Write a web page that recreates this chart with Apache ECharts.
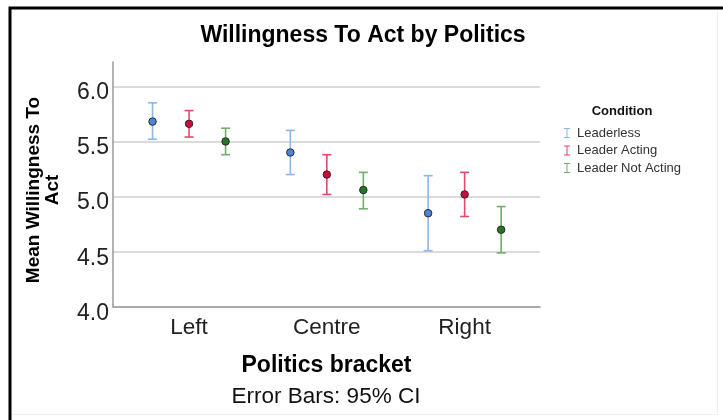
<!DOCTYPE html>
<html>
<head>
<meta charset="utf-8">
<script src="https://cdn.jsdelivr.net/npm/echarts@6/dist/echarts.min.js"></script>
<style>
  html, body { margin: 0; padding: 0; background: #fff; }
  #chart { width: 723px; height: 420px; }
</style>
</head>
<body>
<div id="chart"></div>
<script>
// Politics brackets along the x axis
const categories = ['Left', 'Centre', 'Right'];
const conditions = ['Leaderless', 'Leader Acting', 'Leader Not Acting'];

// Mean willingness to act, with 95% CI bounds, per condition
const leaderlessMean = [5.68, 5.40, 4.85];
const leaderlessLow  = [5.52, 5.20, 4.51];
const leaderlessHigh = [5.85, 5.60, 5.19];

const actingMean = [5.66, 5.20, 5.02];
const actingLow  = [5.54, 5.02, 4.82];
const actingHigh = [5.78, 5.38, 5.22];

const notActingMean = [5.50, 5.06, 4.70];
const notActingLow  = [5.38, 4.89, 4.49];
const notActingHigh = [5.62, 5.22, 4.91];

const yTicks = [4.0, 4.5, 5.0, 5.5, 6.0];

const barColors = ['#8cb6ee', '#e8476d', '#6fae6b'];
const dotColors = ['#4a88d6', '#cc0a3c', '#1f7a24'];
const groupOffsets = [-0.265, 0, 0.265];

const groups = [
  { mean: leaderlessMean, low: leaderlessLow, high: leaderlessHigh },
  { mean: actingMean, low: actingLow, high: actingHigh },
  { mean: notActingMean, low: notActingLow, high: notActingHigh }
];

// I-beam legend glyph, echoing the error bar shape
const iBeam = 'path://M0,0 L6,0 L6,1 L3.5,1 L3.5,9 L6,9 L6,10 L0,10 L0,9 L2.5,9 L2.5,1 L0,1 Z';

const series = [];
groups.forEach((g, si) => {
  const pts = categories.map((c, i) => [i + groupOffsets[si], g.low[i], g.high[i]]);
  series.push({
    type: 'custom',
    name: conditions[si],
    data: pts,
    z: 3,
    encode: { x: 0, y: [1, 2] },
    renderItem: (params, api) => {
      const x = api.value(0);
      const top = api.coord([x, api.value(2)]);
      const bot = api.coord([x, api.value(1)]);
      const cap = 4.5;
      const style = { stroke: barColors[si], lineWidth: 1.6, fill: null };
      return {
        type: 'group',
        children: [
          { type: 'line', shape: { x1: top[0], y1: top[1], x2: bot[0], y2: bot[1] }, style },
          { type: 'line', shape: { x1: top[0] - cap, y1: top[1], x2: top[0] + cap, y2: top[1] }, style },
          { type: 'line', shape: { x1: bot[0] - cap, y1: bot[1], x2: bot[0] + cap, y2: bot[1] }, style }
        ]
      };
    },
    itemStyle: { color: barColors[si] }
  });
  series.push({
    type: 'scatter',
    data: categories.map((c, i) => [i + groupOffsets[si], g.mean[i]]),
    symbol: 'circle',
    symbolSize: 7.5,
    z: 4,
    itemStyle: { color: dotColors[si], borderColor: '#2a2a2a', borderWidth: 1, opacity: 1 },
    silent: true
  });
});

const chart = echarts.init(document.getElementById('chart'), null, { renderer: 'canvas' });
chart.setOption({
  animation: false,
  backgroundColor: '#fff',
  textStyle: { fontFamily: 'Liberation Sans, Arial, sans-serif' },
  title: [
    {
      text: 'Willingness To Act by Politics',
      left: 358, top: 19, textAlign: 'center',
      textStyle: { fontSize: 23, fontWeight: 'bold', color: '#000', fontFamily: 'Liberation Sans' }
    },
    {
      text: 'Condition',
      left: 617, top: 99.5, textAlign: 'center',
      textStyle: { fontSize: 13, fontWeight: 'bold', color: '#111', fontFamily: 'Liberation Sans' }
    },
    {
      text: 'Error Bars: 95% CI',
      left: 321, top: 380.5, textAlign: 'center',
      textStyle: { fontSize: 22.5, fontWeight: 'normal', color: '#111', fontFamily: 'Liberation Sans' }
    }
  ],
  legend: {
    orient: 'vertical',
    left: 559, top: 121.5,
    itemWidth: 6, itemHeight: 10, itemGap: 4.5,
    icon: iBeam,
    data: conditions.map((n, i) => ({ name: n, itemStyle: { color: barColors[i] } })),
    textStyle: { fontSize: 13, color: '#333', fontFamily: 'Liberation Sans', padding: [0, 0, 0, 2] }
  },
  grid: { left: 113, top: 62, right: 183, bottom: 113, containLabel: false },
  xAxis: {
    type: 'value',
    min: -0.552, max: 2.547,
    name: 'Politics bracket',
    nameLocation: 'middle', nameGap: 47,
    nameTextStyle: { fontSize: 23, fontWeight: 'bold', color: '#000', fontFamily: 'Liberation Sans' },
    axisLine: { show: true, lineStyle: { color: '#999', width: 1.5 } },
    axisTick: { show: false, customValues: [0, 1, 2] },
    splitLine: { show: false },
    axisLabel: {
      customValues: [0, 1, 2],
      formatter: v => categories[Math.round(v)],
      fontSize: 22.5, color: '#222', margin: 9.5, fontFamily: 'Liberation Sans'
    }
  },
  yAxis: {
    type: 'value',
    min: 4.0, max: 6.22,
    name: 'Mean Willingness To\nAct',
    nameLocation: 'middle', nameGap: 51, nameRotate: 90,
    nameTextStyle: {
      fontSize: 19, fontWeight: 'bold', color: '#000', lineHeight: 19,
      fontFamily: 'Liberation Sans', padding: [0, 11, 0, 0]
    },
    axisLine: { show: true, onZero: false, lineStyle: { color: '#999', width: 1.5 } },
    axisTick: { show: false, customValues: yTicks },
    axisLabel: {
      customValues: yTicks,
      formatter: v => v.toFixed(1),
      fontSize: 23, color: '#222', margin: 4,
      verticalAlign: 'top', lineHeight: 13,
      fontFamily: 'Liberation Sans'
    },
    splitLine: { show: true, lineStyle: { color: '#cfcfcf', width: 1.5 } }
  },
  graphic: [
    {
      type: 'rect',
      shape: { x: 9.5, y: 7.5, width: 708, height: 407 },
      style: { fill: null, stroke: '#f0f0f0', lineWidth: 1 },
      z: 0, silent: true
    },
    {
      type: 'polyline',
      shape: { points: [[10, 440], [10, 8], [740, 8]] },
      style: { fill: null, stroke: '#000', lineWidth: 3 },
      z: 1, silent: true
    }
  ],
  series
});
</script>
</body>
</html>
